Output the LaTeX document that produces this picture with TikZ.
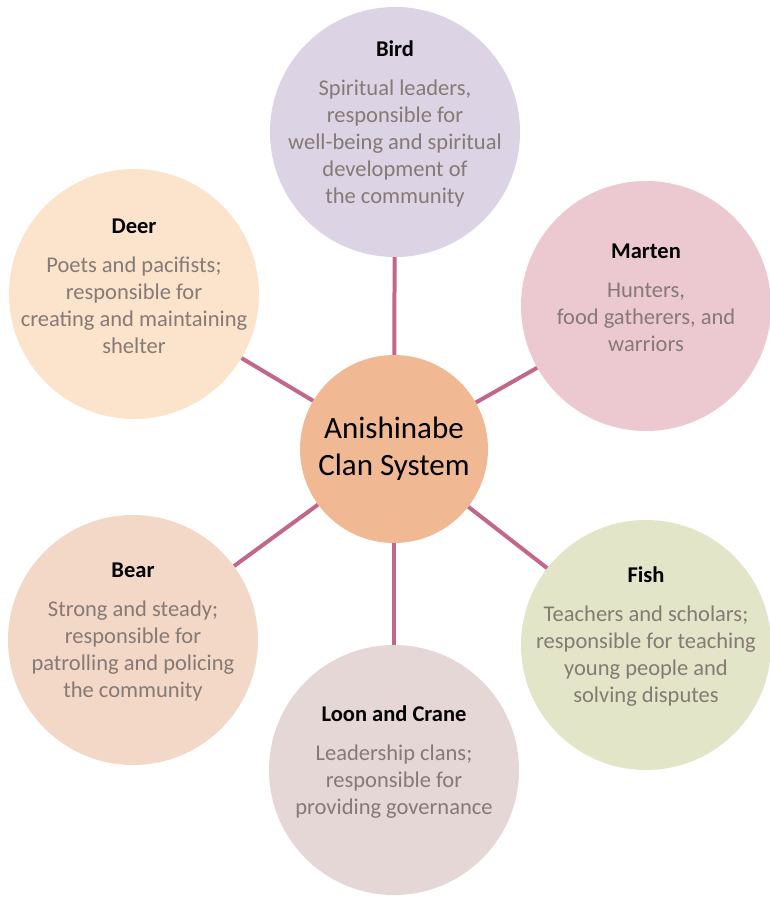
\documentclass[tikz,border=0pt]{standalone}
\usepackage{fontspec}
\setmainfont{Carlito}
\definecolor{hubfill}{HTML}{F0B994}
\definecolor{birdfill}{HTML}{DCD3E4}
\definecolor{deerfill}{HTML}{FCE4CC}
\definecolor{martenfill}{HTML}{ECC9D0}
\definecolor{fishfill}{HTML}{E2E5C7}
\definecolor{loonfill}{HTML}{E4D7D6}
\definecolor{bearfill}{HTML}{F3D8C8}
\definecolor{linkcol}{HTML}{C2678A}
\definecolor{desccol}{HTML}{857A75}
\begin{document}
\begin{tikzpicture}[x=1pt,y=-1pt,
   hub/.style={circle,fill=hubfill,minimum size=188pt,inner sep=0pt,align=center,
      font=\fontsize{31}{37}\selectfont},
   clan/.style={circle,minimum size=250pt,inner sep=0pt},
   clantext/.style={align=center,text=desccol,font=\fontsize{22.5}{27}\selectfont},
   link/.style={draw=linkcol,line width=4pt}]
   \useasboundingbox (0,0) rectangle (770,897);
   \node[hub] (hub) at (394,449) {Anishinabe\\Clan System};
   % one entry per clan: {name/x/y/fill/title/description}
   \foreach \name/\x/\y/\col/\title/\desc in {{bird/395/132/birdfill/Bird/{Spiritual leaders,\\responsible for\\well-being and spiritual\\development of\\the community}},{marten/646/306/martenfill/Marten/{Hunters,\\food gatherers, and\\warriors}},{fish/646/645/fishfill/Fish/{Teachers and scholars;\\responsible for teaching\\young people and\\solving disputes}},{loon/394/770/loonfill/Loon and Crane/{Leadership clans;\\responsible for\\providing governance}},{bear/133/640/bearfill/Bear/{Strong and steady;\\responsible for\\patrolling and policing\\the community}},{deer/134/294/deerfill/Deer/{Poets and pacifists;\\responsible for\\creating and maintaining\\shelter}}}{
      \node[clan,fill=\col] (\name) at (\x,\y) {};
      \node[clantext] (\name-text) at ([yshift=8pt]\name.center) {\textcolor{black}{\textbf{\title}}\\[12pt]\desc};
   }
   % spokes from the hub to every clan
   \foreach \to in {bird,marten,fish,loon,bear,deer}
      \draw[link] (hub) -- (\to);
\end{tikzpicture}
\end{document}
